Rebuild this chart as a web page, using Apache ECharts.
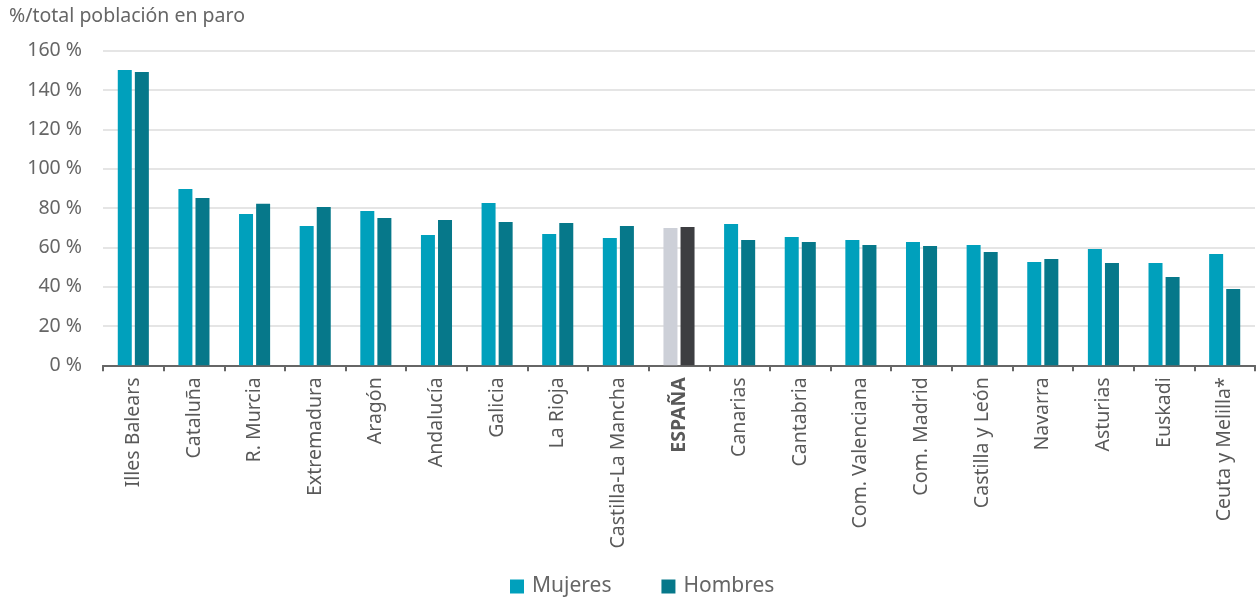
<!DOCTYPE html>
<html><head><meta charset="utf-8">
<script src="https://cdn.jsdelivr.net/npm/echarts@6/dist/echarts.min.js"></script>
<style>html,body{margin:0;padding:0;background:#fff}#c{width:1258px;height:602px}</style>
</head><body><div id="c"></div>
<script>
const categories = ['Illes Balears','Cataluña','R. Murcia','Extremadura','Aragón','Andalucía','Galicia','La Rioja','Castilla-La Mancha','ESPAÑA','Canarias','Cantabria','Com. Valenciana','Com. Madrid','Castilla y León','Navarra','Asturias','Euskadi','Ceuta y Melilla*'];
const mujeres = [150.2, 89.7, 77.0, 70.9, 78.5, 66.3, 82.6, 66.8, 64.8, 69.8, 71.9, 65.3, 63.7, 62.7, 61.2, 52.5, 59.2, 52.0, 56.6];
const hombres = [149.2, 85.1, 82.1, 80.5, 74.9, 73.9, 72.9, 72.4, 70.8, 70.4, 63.7, 62.7, 61.2, 60.7, 57.6, 54.1, 52.0, 44.9, 38.8];
const yTicks = [0, 20, 40, 60, 80, 100, 120, 140, 160];
const highlight = 'ESPAÑA';

const FONT = '"Noto Sans"';
const cM = '#00A0BC', cH = '#06788A', cMx = '#CDD0D8', cHx = '#3D3E41';

function mk(vals, special) {
  return vals.map((v, i) => categories[i] === highlight ? {value: v, itemStyle: {color: special}} : v);
}

const chart = echarts.init(document.getElementById('c'), null, {renderer: 'canvas'});
chart.setOption({
  animation: false,
  textStyle: {fontFamily: FONT},
  title: {text: '%/total población en paro', left: 4, top: 1,
    textStyle: {fontFamily: FONT, fontSize: 19.5, fontWeight: 'normal', color: '#666'}},
  legend: {bottom: 0, left: 505, itemWidth: 14, itemHeight: 14, itemGap: 50,
    icon: 'rect',
    textStyle: {fontFamily: FONT, fontSize: 21, color: '#666', padding: [0, 0, 0, 3]},
    data: [{name: 'Mujeres', itemStyle: {color: cM}}, {name: 'Hombres', itemStyle: {color: cH}}]},
  grid: {left: 103, right: 3, top: 50.7, bottom: 236.7, containLabel: false},
  xAxis: {type: 'category', data: categories,
    axisLine: {lineStyle: {color: '#666', width: 2}},
    axisTick: {show: true, length: 6, lineStyle: {color: '#666', width: 2}},
    axisLabel: {rotate: 90, margin: 12, fontSize: 19.5, color: '#595959', fontFamily: FONT, interval: 0,
      formatter: v => v === highlight ? '{b|' + v + '}' : v,
      rich: {b: {fontWeight: 'bold', fontSize: 19.5, color: '#595959', fontFamily: FONT}}}},
  yAxis: {type: 'value', min: yTicks[0], max: yTicks[yTicks.length - 1], interval: 20,
    axisLine: {show: false}, axisTick: {show: false},
    splitLine: {lineStyle: {color: '#e5e5e5', width: 2}},
    axisLabel: {margin: 21, fontSize: 19.5, color: '#666', fontFamily: FONT, formatter: v => v + ' %'}},
  series: [
    {name: 'Mujeres', type: 'bar', data: mk(mujeres, cMx), itemStyle: {color: cM}, barWidth: 14, barGap: '22%'},
    {name: 'Hombres', type: 'bar', data: mk(hombres, cHx), itemStyle: {color: cH}, barWidth: 14, barGap: '22%'}
  ]
});
</script></body></html>
